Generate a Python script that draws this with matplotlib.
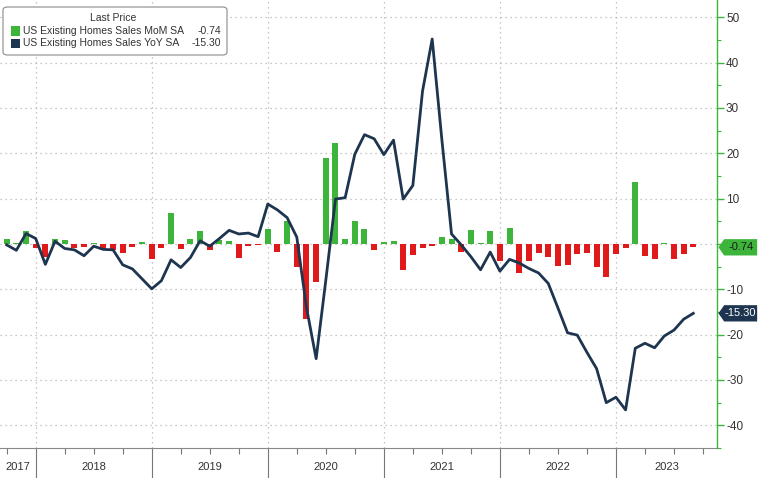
"""
US existing home sales, MoM vs YoY (Bloomberg style chart)
"""

import matplotlib
matplotlib.use("Agg")
import matplotlib.pyplot as plt
from matplotlib.patches import Polygon, Rectangle, FancyBboxPatch
from matplotlib.transforms import blended_transform_factory

plt.rcParams['font.family'] = ['Liberation Sans', 'DejaVu Sans']
plt.rcParams['axes.unicode_minus'] = False

# monthly data, Sep 2017 .. Aug 2023
first_year, first_month = 2017, 9

mom = [1.1, 0.3, 2.8, -0.8, -2.9, 1.2, 0.9, -1.0, -0.6, 0.3, -1.3, -1.3,
       -2.1, -0.7, 0.4, -3.4, -0.9, 6.9, -1.1, 1.1, 2.9, -1.3, 0.8, 0.6,
       -3.0, -0.4, -0.3, 3.4, -1.8, 5.1, -5.1, -16.5, -8.4, 19.0, 22.2, 1.2,
       5.1, 3.3, -1.3, 0.5, 0.7, -5.7, -2.4, -1.0, -0.4, 1.5, 1.0, -1.8,
       3.1, 0.3, 2.8, -3.8, 3.6, -6.5, -3.8, -2.0, -2.9, -4.9, -4.7, -2.2,
       -2.0, -5.1, -7.3, -2.2, -0.8, 13.6, -2.7, -3.3, 0.2, -3.3, -2.2, -0.74]

yoy = [-0.2, -1.4, 2.3, 1.2, -4.5, 0.6, -1.0, -1.3, -2.6, -0.5, -1.2, -1.3,
       -4.6, -5.5, -7.7, -9.9, -8.1, -3.5, -5.2, -3.0, 0.7, -0.5, 1.2, 3.0,
       2.2, 2.4, 1.6, 8.8, 7.5, 5.8, 1.5, -14.0, -25.3, -8.0, 9.9, 10.2,
       19.8, 24.1, 23.2, 19.7, 22.9, 9.9, 12.9, 33.7, 45.2, 23.0, 2.2, -0.2,
       -2.8, -5.7, -1.8, -6.0, -3.4, -4.2, -5.4, -6.4, -8.7, -14.1, -19.6, -20.1,
       -23.9, -27.5, -35.0, -33.8, -36.6, -23.0, -21.9, -22.9, -20.3, -19.0, -16.6, -15.3]

years = [2017, 2018, 2019, 2020, 2021, 2022, 2023]

mom_label = "US Existing Homes Sales MoM SA"
yoy_label = "US Existing Homes Sales YoY SA"

GREEN = '#3db53a'
RED = '#e0191b'
NAVY = '#1e3550'
GRID = '#b5b5b5'
TEXT = '#333333'

W, H = 758, 478


def fx(px):
    return px / W


def fy(py):
    return 1 - py / H


fig = plt.figure(figsize=(W / 100, H / 100), dpi=100)
ax = fig.add_axes([0, 30 / H, 717 / W, 448 / H])

x = list(range(len(mom)))
colors = [GREEN if v >= 0 else RED for v in mom]
ax.bar(x, mom, width=0.62, color=colors, zorder=2)
ax.plot(x, yoy, color=NAVY, lw=2.0, zorder=3, solid_joinstyle='round')

ax.set_xlim(-0.69, 73.45)
ax.set_ylim(-44.7, 53.8)

# year boundaries sit on the December point (month-end plotting)
first_dec = 12 - first_month
bounds = [first_dec + 12 * k for k in range(len(years) - 1)]
quarter = [q for q in range(0, 74, 3) if q not in bounds]
ax.set_xticks(bounds)
ax.set_xticks(quarter, minor=True)
ax.tick_params(axis='x', which='major', length=23, width=0.8, color='#777777',
               labelbottom=False)
ax.tick_params(axis='x', which='minor', length=4, width=0.8, color='#777777')

edges = [ax.get_xlim()[0]] + bounds + [ax.get_xlim()[1]]
tr = blended_transform_factory(ax.transData, ax.transAxes)
for i, yr in enumerate(years):
    cx = (edges[i] + edges[i + 1]) / 2
    ax.text(cx, -19 / 448, str(yr), transform=tr, ha='center', va='center',
            fontsize=8, color=TEXT)

# right value axis (the 0 label is hidden behind the last-value tag)
ax.yaxis.tick_right()
yt = list(range(-40, 51, 10))
ax.set_yticks(yt)
ax.set_yticklabels(['' if t == 0 else str(t) for t in yt])
ax.set_yticks(range(-45, 51, 10), minor=True)
ax.tick_params(axis='y', which='major', length=5, width=1, color=GREEN,
               labelsize=8.5, labelcolor=TEXT, pad=1.5)
ax.tick_params(axis='y', which='minor', length=3, width=0.8, color=GREEN)

ax.grid(True, which='major', color=GRID, linestyle=(0, (1, 3)), lw=0.9, zorder=0)
for side in ['top', 'left']:
    ax.spines[side].set_visible(False)
ax.spines['right'].set_color(GREEN)
ax.spines['right'].set_linewidth(1.0)
ax.spines['bottom'].set_color('#888888')
ax.spines['bottom'].set_linewidth(0.8)

# last value tags on the right axis
tag_tr = blended_transform_factory(ax.transAxes, ax.transData)
for val, fill, tcol in [(mom[-1], GREEN, '#1a1a1a'), (yoy[-1], NAVY, 'white')]:
    h = 1.8
    pts = [(1.002, val), (1.010, val + h), (1.056, val + h),
           (1.056, val - h), (1.010, val - h)]
    ax.add_patch(Polygon(pts, closed=True, transform=tag_tr, clip_on=False,
                         facecolor=fill, edgecolor='none', zorder=5))
    ax.text(1.033, val, f"{val:.2f}", transform=tag_tr, ha='center',
            va='center', fontsize=8, color=tcol, zorder=6)

# legend box
fig.patches.append(FancyBboxPatch((fx(3), fy(55)), fx(224), 48 / H,
                                  boxstyle='round,pad=0,rounding_size=0.006',
                                  transform=fig.transFigure, facecolor='white',
                                  edgecolor='#8a8a8a', lw=0.8, zorder=10))
fig.text(fx(113), fy(18), "Last Price", ha='center', va='center',
         fontsize=7.5, color=TEXT, zorder=11)
for py, col, lab, val in [(31, GREEN, mom_label, mom[-1]),
                          (43.5, NAVY, yoy_label, yoy[-1])]:
    fig.patches.append(Rectangle((fx(11), fy(py + 4.5)), 9 / W, 9 / H,
                                 transform=fig.transFigure, facecolor=col,
                                 edgecolor='none', zorder=11))
    fig.text(fx(23), fy(py), lab, ha='left', va='center', fontsize=7.5,
             color=TEXT, zorder=11)
    fig.text(fx(221), fy(py), f"{val:.2f}", ha='right', va='center',
             fontsize=7.5, color=TEXT, zorder=11)

fig.savefig("out.png", dpi=100)
